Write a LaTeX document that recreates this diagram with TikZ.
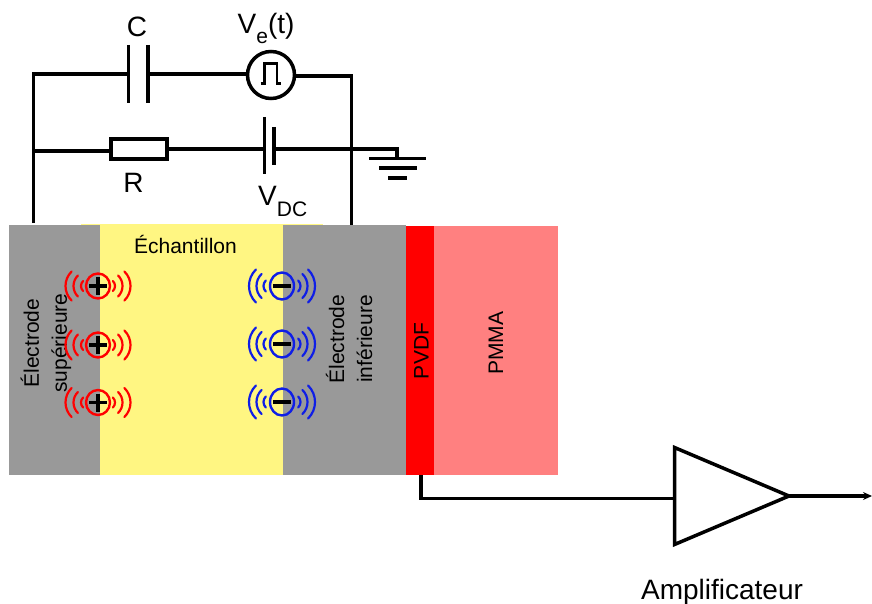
\documentclass[tikz,border=0pt]{standalone}
\usepackage{fontspec}
\setmainfont{Liberation Sans}
\usetikzlibrary{arrows.meta,calc,shapes.geometric}
\definecolor{grayel}{HTML}{999999}
\definecolor{sample}{HTML}{FFF682}
\definecolor{pvdf}{HTML}{FF0000}
\definecolor{pmma}{HTML}{FF8080}
\definecolor{chplus}{HTML}{FF0000}
\definecolor{chminus}{HTML}{0F1EE6}
\tikzset{
  wire/.style={line width=3.5pt,line join=miter,line cap=butt},
  block/.style={rectangle,draw=none,inner sep=0pt,anchor=north west},
  lab/.style={inner sep=0pt,font=\fontsize{21}{28}\selectfont,align=center,text=black},
  big/.style={inner sep=0pt,font=\fontsize{28}{30}\selectfont,text=black},
  wave/.style={line width=2.2pt,line cap=round},
  charge/.style={ellipse,draw,line width=2.4pt,inner sep=0pt},
}
\newcommand{\wavepair}[8]{%
  \foreach \d/\h in {#3/#6,#4/#7,#5/#8}{%
    \draw[wave,#2] ($(#1)+(-\d+.42*\h,-\h)$) .. controls ($(#1)+(-\d-.14*\h,-.45*\h)$) and ($(#1)+(-\d-.14*\h,.45*\h)$) .. ($(#1)+(-\d+.42*\h,\h)$);
    \draw[wave,#2] ($(#1)+(\d-.42*\h,-\h)$) .. controls ($(#1)+(\d+.14*\h,-.45*\h)$) and ($(#1)+(\d+.14*\h,.45*\h)$) .. ($(#1)+(\d-.42*\h,\h)$);
  }%
}
\begin{document}
\begin{tikzpicture}[x=1pt,y=-1pt]
\useasboundingbox (0,0) rectangle (872,604);
% blocks
\fill[sample] (81,224) rectangle (323,226);
\node[block,fill=sample,minimum width=184pt,minimum height=250pt] (sampleblock) at (99,225) {};
\node[block,fill=grayel,minimum width=90.5pt,minimum height=250pt] (top) at (9,225) {};
\node[block,fill=grayel,minimum width=123pt,minimum height=250pt] (bottom) at (283,225) {};
\node[block,fill=pmma,minimum width=123.5pt,minimum height=249pt] (pmmablock) at (434,226) {};
\node[block,fill=pvdf,minimum width=28pt,minimum height=249pt] (pvdfblock) at (406,226) {};
% block labels
\node[lab] (lsample) at (185.5,244) {Échantillon};
\node[lab,rotate=90] (ltop) at (46,343) {Électrode\\supérieure};
\node[lab,rotate=90] (lbottom) at (349,339) {Électrode\\inférieure};
\node[lab,rotate=90] (lpvdf) at (421.5,351) {PVDF};
\node[lab,rotate=90] (lpmma) at (496,343) {PMMA};
% charges
\foreach \n/\y in {a/286,b/345,c/402.5}{
  \coordinate (p\n) at (98,\y);
  \wavepair{p\n}{chplus}{17}{24.5}{32.5}{5}{10.5}{14.5}
  \node[charge,draw=chplus,minimum width=24pt,minimum height=25pt] (cp\n) at (p\n) {};
  \draw[line width=3.6pt] ($(p\n)+(-9,0)$) -- ($(p\n)+(9,0)$);
  \draw[line width=3.6pt] ($(p\n)+(0,-9)$) -- ($(p\n)+(0,9)$);
}
\foreach \n/\y in {a/286,b/344,c/402}{
  \coordinate (m\n) at (282,\y);
  \wavepair{m\n}{chminus}{18.5}{25.5}{33}{5.5}{12}{16.5}
  \node[charge,draw=chminus,minimum width=24pt,minimum height=27pt] (cm\n) at (m\n) {};
  \draw[line width=4.4pt] ($(m\n)+(-9,0)$) -- ($(m\n)+(9,0)$);
}
% circuit junctions
\coordinate (tl) at (33.5,74);
\coordinate (ml) at (33.5,151);
\coordinate (bl) at (33.5,223);
\coordinate (tr) at (351.5,76);
\coordinate (br) at (351.5,225);
\coordinate (gnd) at (397,158.5);
% capacitor
\coordinate (c1) at (128.5,74);
\coordinate (c2) at (148,74);
\draw[wire] (128.5,45) -- (128.5,103);
\draw[wire] (148,45) -- (148,103);
% source
\node[circle,draw,line width=3.5pt,fill=white,minimum size=47pt,inner sep=0pt] (src) at (271,75) {};
\draw[line width=2.8pt] ($(src)+(-10.5,8.5)$) -- ++(4,0) -- ++(0,-20) -- ++(12.5,0) -- ++(0,20) -- ++(4,0);
% resistor
\node[rectangle,draw,line width=3.5pt,minimum width=56pt,minimum height=20pt,inner sep=0pt] (res) at (139,149) {};
% battery
\coordinate (b1) at (264.5,149);
\coordinate (b2) at (274,149);
\draw[wire] (264.5,117) -- (264.5,174);
\draw[wire] (274,127) -- (274,165);
% wires
\draw[wire] (bl) -- (tl) -- (c1);
\draw[wire] (c2) -- (src.west |- c2);
\draw[wire] (src.east |- tr) -- (tr) -- (br);
\draw[wire] (ml) -- (res.west |- ml);
\draw[wire] (res.east) -- (b1);
\draw[wire] (b2) -- (gnd |- b2) -- (gnd);
\draw[wire] (369,158.5) -- (426,158.5);
\draw[wire] (379,168) -- (417,168);
\draw[wire] (388,178) -- (407,178);
% labels
\node[big] (lc) at (137,27) {C};
\node[big,anchor=base west] (lve) at (237.5,33.5) {V\raisebox{-10pt}{\fontsize{21}{21}\selectfont e}(t)};
\node[big] (lr) at (133.5,183) {R};
\node[big,anchor=base west] (lvdc) at (258,205) {V\raisebox{-11pt}{\fontsize{21}{21}\selectfont DC}};
% amplifier
\coordinate (a1) at (674.5,447.5);
\coordinate (a2) at (674.5,544.5);
\coordinate (atip) at (789,496);
\coordinate (aout) at (872,496);
\coordinate (pv) at (421,475);
\draw[wire] (a1) -- (atip) -- (a2) -- cycle;
\draw[wire] (pv) -- (421,498.5) -- (a1 |- 0,498.5);
\draw[wire,-{Stealth[length=9pt,width=8pt]}] (atip) -- (aout);
\node[inner sep=0pt,font=\fontsize{28}{30}\selectfont,anchor=base] (lamp) at (722,599.5) {Amplificateur};
\end{tikzpicture}
\end{document}
